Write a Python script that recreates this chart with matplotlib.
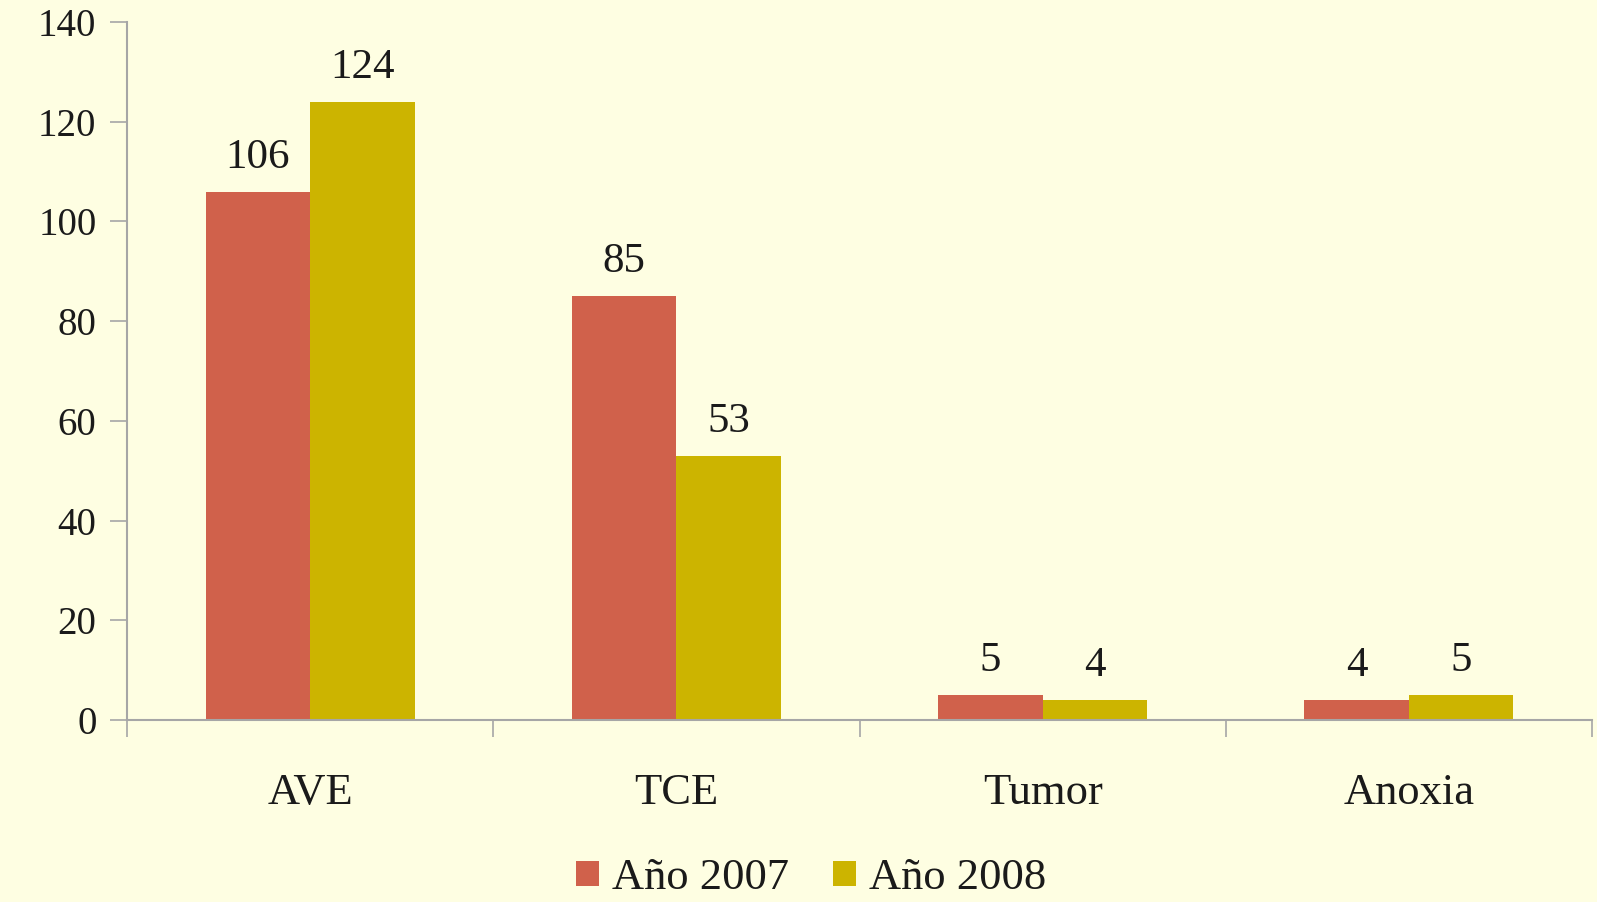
import matplotlib.pyplot as plt
import numpy as np

categories = ["AVE", "TCE", "Tumor", "Anoxia"]
year_2007 = [106, 85, 5, 4]
year_2008 = [124, 53, 4, 5]
series_names = ["Año 2007", "Año 2008"]
yticks = [0, 20, 40, 60, 80, 100, 120, 140]

bg = "#FEFEE2"
red = "#D0614B"
gold = "#CCB400"
axis_grey = "#A6A6A6"
ink = "#1a1a1a"

plt.rcParams['font.family'] = ['Liberation Serif', 'DejaVu Serif']

fig = plt.figure(figsize=(15.97, 9.02), dpi=100, facecolor=bg)
ax = fig.add_axes([127/1597, 1 - 720/902, 1465/1597, 698/902])
ax.set_facecolor(bg)

x = np.arange(len(categories))
w = 0.285
b1 = ax.bar(x - w/2, year_2007, w, color=red, label=series_names[0])
b2 = ax.bar(x + w/2, year_2008, w, color=gold, label=series_names[1])

# value labels on top of each bar
for bars, vals in ((b1, year_2007), (b2, year_2008)):
    for r, v in zip(bars, vals):
        ax.text(r.get_x() + r.get_width()/2, v + 3, str(v),
                ha='center', va='bottom', fontsize=31, color=ink)

ax.set_xlim(-0.5, len(categories) - 0.5)
ax.set_ylim(0, 140)
ax.set_yticks(yticks)
ax.set_yticklabels([str(t) for t in yticks], fontsize=28, color=ink)
ax.set_xticks(x)
ax.set_xticklabels(categories, fontsize=32, color=ink)
ax.tick_params(axis='x', length=0, pad=38)
# category separators along the x axis
ax.set_xticks(np.arange(len(categories) + 1) - 0.5, minor=True)
ax.tick_params(axis='x', which='minor', length=12, width=1.2, color=axis_grey, direction='out')
ax.tick_params(axis='y', length=12, width=1.2, color=axis_grey, pad=10)

for s in ('top', 'right'):
    ax.spines[s].set_visible(False)
for s in ('left', 'bottom'):
    ax.spines[s].set_color(axis_grey)
    ax.spines[s].set_linewidth(1.5)

fig.legend(loc='center', bbox_to_anchor=(0.508, 1 - 878/902), ncol=2, frameon=False,
           fontsize=32, handlelength=0.5, handleheight=0.5, handletextpad=0.3,
           columnspacing=1.0, labelcolor=ink)

fig.savefig("out.png", dpi=100, facecolor=bg)
